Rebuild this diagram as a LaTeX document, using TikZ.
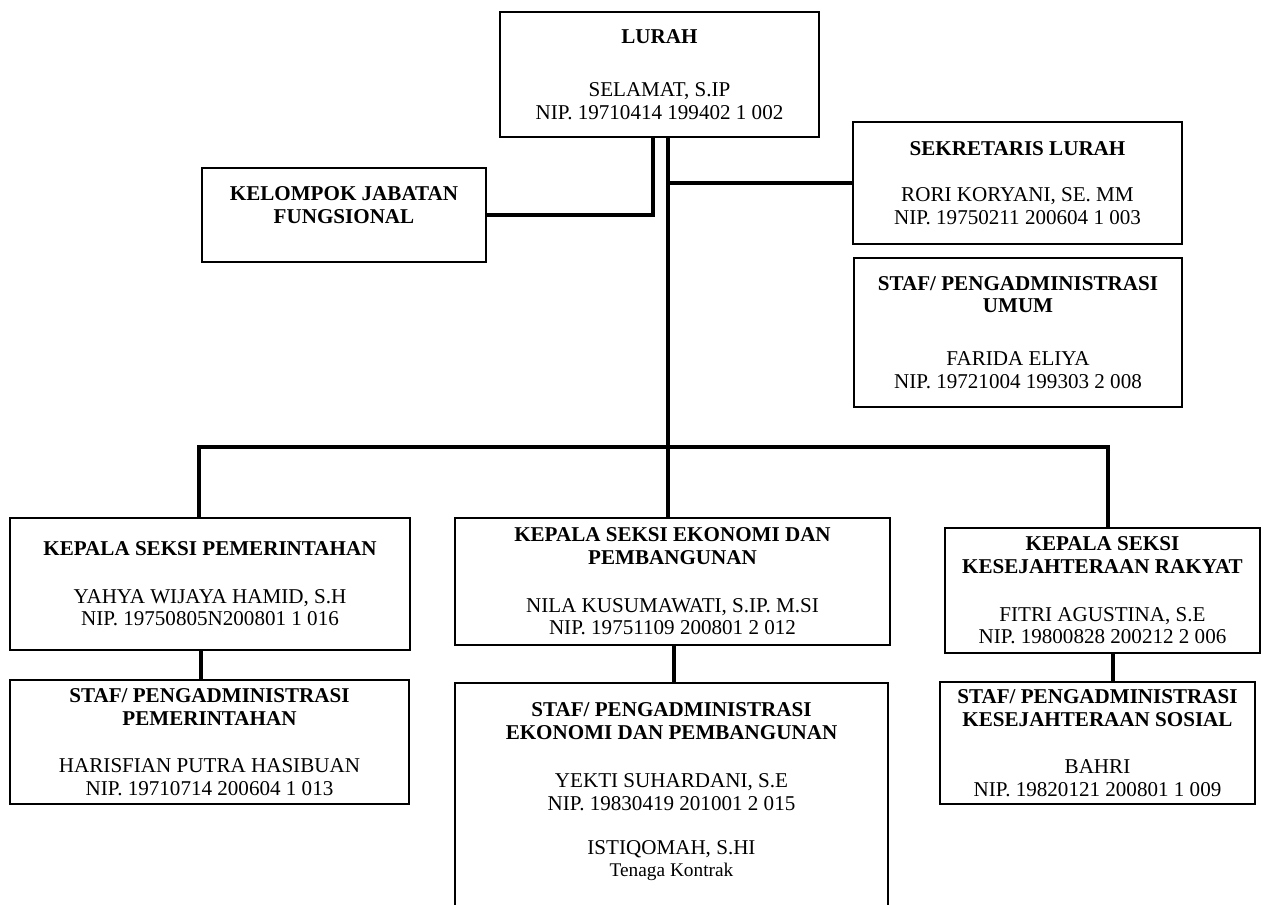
\documentclass[tikz,border=0pt]{standalone}
\usepackage{fontspec}
\setmainfont{Liberation Serif}

\begin{document}
\begin{tikzpicture}[x=0.02cm, y=-0.02cm, font=\fontsize{12pt}{13pt}\selectfont]
	\tikzstyle{boxStyle} = [draw, line width=1.2pt, align=center, inner sep=2pt]
	\tikzstyle{lineStyle} = [line width=2pt]
	\useasboundingbox (0,0) rectangle (1282,905);
	% top part
	\node[boxStyle, minimum width=6.38cm, minimum height=2.5cm] (lurah) at (659.5,74.5) {\textbf{LURAH}\\[17pt]SELAMAT, S.IP\\NIP. 19710414 199402 1 002};
	\node[boxStyle, minimum width=5.68cm, minimum height=1.88cm, text depth=11pt] (kjf) at (344,215) {\textbf{KELOMPOK JABATAN}\\\textbf{FUNGSIONAL}};
	\node[boxStyle, minimum width=6.58cm, minimum height=2.44cm] (sekre) at (1017.5,183) {\textbf{SEKRETARIS LURAH}\\[13pt]RORI KORYANI, SE. MM\\NIP. 19750211 200604 1 003};
	\node[boxStyle, minimum width=6.56cm, minimum height=2.98cm] (stumum) at (1018,332.5) {\textbf{STAF/ PENGADMINISTRASI}\\\textbf{UMUM}\\[17pt]FARIDA ELIYA\\NIP. 19721004 199303 2 008};
	% kepala seksi
	\node[boxStyle, minimum width=8cm, minimum height=2.64cm] (kspem) at (210,584) {\textbf{KEPALA SEKSI PEMERINTAHAN}\\[14pt]YAHYA WIJAYA HAMID, S.H\\NIP. 19750805N200801 1 016};
	\node[boxStyle, minimum width=8.7cm, minimum height=2.54cm] (kseko) at (672.5,581.5) {\textbf{KEPALA SEKSI EKONOMI DAN}\\\textbf{PEMBANGUNAN}\\[14pt]NILA KUSUMAWATI, S.IP. M.SI\\NIP. 19751109 200801 2 012};
	\node[boxStyle, minimum width=6.3cm, minimum height=2.5cm] (kskes) at (1102.5,590.5) {\textbf{KEPALA SEKSI}\\\textbf{KESEJAHTERAAN RAKYAT}\\[14pt]FITRI AGUSTINA, S.E\\NIP. 19800828 200212 2 006};
	% staf
	\node[boxStyle, minimum width=7.98cm, minimum height=2.48cm] (stpem) at (209.5,742) {\textbf{STAF/ PENGADMINISTRASI}\\\textbf{PEMERINTAHAN}\\[14pt]HARISFIAN PUTRA HASIBUAN\\NIP. 19710714 200604 1 013};
	\node[boxStyle, minimum width=8.66cm, minimum height=4.84cm, text depth=16pt] (steko) at (671.5,804) {\textbf{STAF/ PENGADMINISTRASI}\\\textbf{EKONOMI DAN PEMBANGUNAN}\\[14pt]YEKTI SUHARDANI, S.E\\NIP. 19830419 201001 2 015\\[12pt]ISTIQOMAH, S.HI\\{\fontsize{11pt}{13pt}\selectfont Tenaga Kontrak}};
	\node[boxStyle, minimum width=6.3cm, minimum height=2.44cm] (stkes) at (1097.5,743) {\textbf{STAF/ PENGADMINISTRASI}\\\textbf{KESEJAHTERAAN SOSIAL}\\[14pt]BAHRI\\NIP. 19820121 200801 1 009};
	% connectors
	\coordinate (xa) at (653,0);
	\coordinate (xb) at (668,0);
	\coordinate (busL) at (199,447);
	\coordinate (busR) at (1108,447);
	\coordinate (xc) at (201,0);
	\coordinate (xd) at (674,0);
	\coordinate (xe) at (1113,0);
	\draw[lineStyle] (lurah.south -| xa) |- (kjf.east);
	\draw[lineStyle] (lurah.south -| xb) -- (xb |- kseko.north);
	\draw[lineStyle] (sekre.west -| xb) -- (sekre.west);
	\draw[lineStyle] (busL |- kspem.north) -- (busL) -- (busR) -- (busR |- kskes.north);
	\draw[lineStyle] (kspem.south -| xc) -- (stpem.north -| xc);
	\draw[lineStyle] (kseko.south -| xd) -- (steko.north -| xd);
	\draw[lineStyle] (kskes.south -| xe) -- (stkes.north -| xe);
\end{tikzpicture}
\end{document}
